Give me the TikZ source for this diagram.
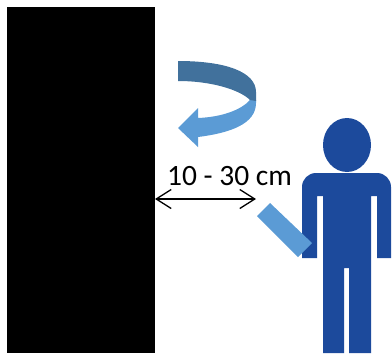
\documentclass[tikz,border=0pt]{standalone}
\usepackage{fontspec}
\setmainfont{Carlito}
\usetikzlibrary{arrows.meta}
\definecolor{armdark}{HTML}{41719C}
\definecolor{armlight}{HTML}{5B9BD5}
\definecolor{personblue}{HTML}{1C4A9C}
\begin{document}
\begin{tikzpicture}[x=1pt, y=-1pt]

  \useasboundingbox (0, 0) rectangle (392, 354);

  % ================================================================
  % Screen (solid black box)
  % ================================================================

  \fill[black] (7, 7) rectangle (155, 353);

  % ================================================================
  % Turning arrow
  % ================================================================

  % --- lower part with the head ---
  \fill[armlight]
    (250, 100) -- (256, 100) -- (256, 103)
    .. controls (256, 124) and (230, 133) .. (198, 137)
    -- (198, 147) -- (178, 128) -- (198, 108) -- (198, 118)
    .. controls (222, 117) and (241, 110) .. (250, 100) -- cycle;

  % --- upper band ---
  \fill[armdark]
    (178, 61)
    .. controls (226, 61) and (256, 72) .. (256, 92)
    -- (256, 101) -- (250, 100)
    .. controls (240, 90) and (212, 81) .. (178, 81) -- cycle;

  % ================================================================
  % Distance
  % ================================================================

  \coordinate (screenedge) at (155, 199);
  \coordinate (deviceedge) at (256, 199);
  \draw[{Straight Barb[length=15pt, width=19pt]}-{Straight Barb[length=15pt, width=19pt]}, line width=1.3pt]
    (screenedge) -- (deviceedge);
  \node[font=\fontsize{29.5}{31}\selectfont, inner sep=0pt] (distlabel) at (229.5, 176) {10 - 30 cm};

  % ================================================================
  % Person
  % ================================================================

  \fill[personblue] (347, 145) ellipse (24 and 27);
  \fill[personblue]
    (302, 258) -- (302, 187) arc[start angle=180, end angle=270, radius=14]
    -- (377, 173) arc[start angle=270, end angle=360, radius=14] -- (391, 258)
    -- (377, 258) -- (377, 196) -- (371, 196) -- (371, 353) -- (349, 353)
    -- (349, 268) -- (344, 268) -- (344, 353) -- (323, 353) -- (323, 196)
    -- (317, 196) -- (317, 258) -- cycle;

  % ================================================================
  % Hand-held device
  % ================================================================

  \fill[armlight] (270, 203) -- (312, 243) -- (298, 257) -- (257, 216) -- cycle;

\end{tikzpicture}
\end{document}
